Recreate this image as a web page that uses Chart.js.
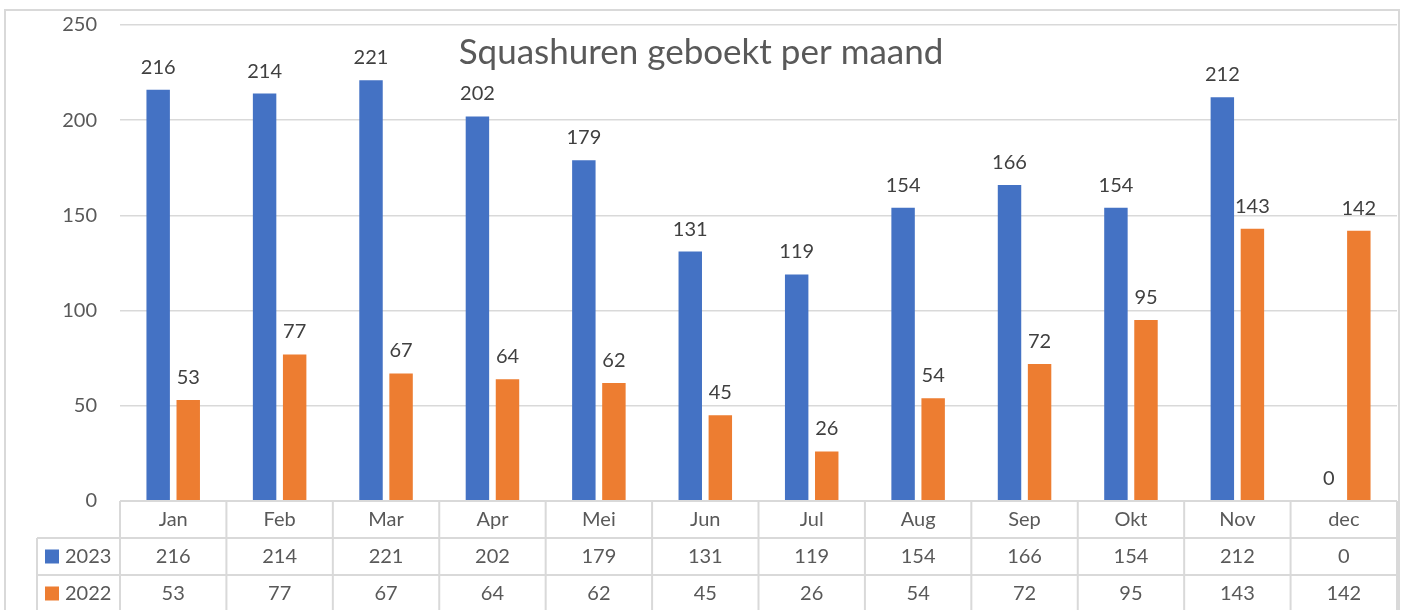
<!DOCTYPE html>
<html><head><meta charset="utf-8">
<script src="https://cdn.jsdelivr.net/npm/chart.js@4.4.1/dist/chart.umd.min.js"></script>
<style>html,body{margin:0;padding:0;background:#fff;overflow:hidden}</style>
</head><body>
<canvas id="c" width="1405" height="610" style="width:1405px;height:610px;display:block"></canvas>
<script>
const categories = ['Jan','Feb','Mar','Apr','Mei','Jun','Jul','Aug','Sep','Okt','Nov','dec'];
const series2023 = [216,214,221,202,179,131,119,154,166,154,212,0];
const series2022 = [53,77,67,64,62,45,26,54,72,95,143,142];
const seriesNames = ['2023','2022'];
const seriesColors = ['#4472C4','#ED7D31'];
const yTicks = [0,50,100,150,200,250];
const titleText = 'Squashuren geboekt per maand';

const FONT = 'Lato, "Open Sans", sans-serif';
const GRID = '#d9d9d9';

const framePlugin = {
  id: 'frame',
  beforeDraw(chart) {
    const ctx = chart.ctx;
    ctx.save();
    ctx.fillStyle = '#fff';
    ctx.fillRect(0,0,chart.width,chart.height);
    ctx.strokeStyle = GRID;
    ctx.lineWidth = 2;
    ctx.beginPath();
    ctx.moveTo(5, 612); ctx.lineTo(5, 10); ctx.lineTo(1399, 10); ctx.lineTo(1399, 612);
    ctx.stroke();
    ctx.restore();
  }
};

const labelPlugin = {
  id: 'labels',
  afterDatasetsDraw(chart) {
    const ctx = chart.ctx;
    ctx.save();
    ctx.font = '20px ' + FONT;
    ctx.fillStyle = '#404040';
    ctx.textAlign = 'center';
    ctx.textBaseline = 'alphabetic';
    chart.data.datasets.forEach((ds, di) => {
      const meta = chart.getDatasetMeta(di);
      meta.data.forEach((bar, i) => {
        ctx.fillText(String(ds.data[i]), bar.x, bar.y - 16);
      });
    });
    ctx.font = '35px ' + FONT;
    ctx.fillStyle = '#595959';
    ctx.textAlign = 'center';
    ctx.textBaseline = 'middle';
    ctx.fillText(titleText, 701, 53);
    ctx.restore();
  }
};

const tablePlugin = {
  id: 'table',
  afterDraw(chart) {
    const ctx = chart.ctx;
    const xs = chart.scales.x;
    const area = chart.chartArea;
    const n = categories.length;
    const cw = (area.right - area.left) / n;
    const top = area.bottom;
    const rh = 37;
    const leftX = 37;
    ctx.save();
    ctx.strokeStyle = GRID;
    ctx.lineWidth = 2;
    ctx.beginPath();
    ctx.moveTo(area.left, top); ctx.lineTo(area.right, top);
    for (let r = 1; r <= 2; r++) {
      ctx.moveTo(leftX, top + rh * r); ctx.lineTo(area.right, top + rh * r);
    }
    for (let i = 0; i <= n; i++) {
      const x = area.left + cw * i;
      ctx.moveTo(x, top); ctx.lineTo(x, chart.height + 2);
    }
    ctx.moveTo(leftX, top + rh); ctx.lineTo(leftX, chart.height + 2);
    ctx.stroke();

    ctx.font = '20px ' + FONT;
    ctx.fillStyle = '#595959';
    ctx.textAlign = 'center';
    ctx.textBaseline = 'middle';
    categories.forEach((c, i) => {
      ctx.fillText(c, xs.getPixelForValue(i), top + rh * 0.5);
    });
    chart.data.datasets.forEach((ds, di) => {
      const cy = top + rh * (di + 1.5);
      ds.data.forEach((v, i) => {
        ctx.fillText(String(v), xs.getPixelForValue(i), cy);
      });
      ctx.fillStyle = seriesColors[di];
      ctx.fillRect(45, cy - 7, 14, 14);
      ctx.fillStyle = '#595959';
      ctx.textAlign = 'left';
      ctx.fillText(ds.label, 65, cy);
      ctx.textAlign = 'center';
    });
    ctx.restore();
  }
};

new Chart(document.getElementById('c'), {
  type: 'bar',
  data: {
    labels: categories,
    datasets: [
      { label: seriesNames[0], data: series2023, backgroundColor: seriesColors[0], borderWidth: 0 },
      { label: seriesNames[1], data: series2022, backgroundColor: seriesColors[1], borderWidth: 0 }
    ]
  },
  options: {
    responsive: false,
    animation: false,
    devicePixelRatio: 1,
    layout: { padding: { top: 25, right: 8, bottom: 109, left: 0 } },
    datasets: { bar: { categoryPercentage: 0.565, barPercentage: 0.78 } },
    plugins: { legend: { display: false }, title: { display: false }, tooltip: { enabled: false } },
    scales: {
      x: { display: false },
      y: {
        min: 0, max: 250,
        afterFit(s) { s.width = 120; s.paddingTop = 10; s.paddingBottom = 10; },
        afterBuildTicks(s) { s.ticks = yTicks.map(v => ({ value: v })); },
        border: { display: false },
        grid: { color: GRID, lineWidth: 1.5, drawTicks: false },
        ticks: { padding: 23, color: '#595959', font: { family: FONT, size: 20 } }
      }
    }
  },
  plugins: [framePlugin, labelPlugin, tablePlugin]
});
</script>
</body></html>
